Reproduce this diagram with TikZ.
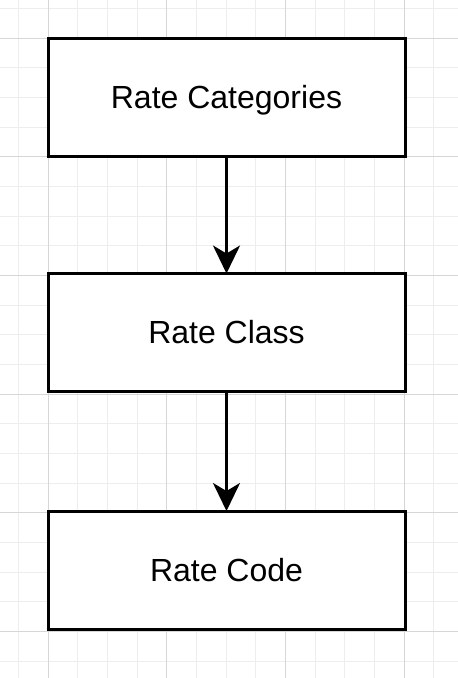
\documentclass[tikz,border=0pt]{standalone}
\usepackage{fontspec}
\setmainfont{Liberation Sans}
\usetikzlibrary{arrows.meta}
\begin{document}
\begin{tikzpicture}[x=1pt,y=-1pt,
  box/.style={draw=black,line width=3pt,fill=white,outer sep=0pt,
    minimum width=357pt,minimum height=118pt,inner sep=0pt,
    text height=22.9pt,text depth=0pt,
    font=\fontsize{32}{38}\selectfont},
  conn/.style={line width=2.8pt,-{Stealth[length=28pt,width=27pt,inset=8pt]}},
  minorgrid/.style={draw=black!7,line width=1pt},
  majorgrid/.style={draw=black!16,line width=1pt}]
\useasboundingbox[fill=white] (0,0) rectangle (458,678);
\def\gs{29.667}
\foreach \k in {-1,...,14} {
  \draw[minorgrid] ({48+\k*\gs},0) -- ({48+\k*\gs},678);
}
\foreach \k in {-1,...,22} {
  \draw[minorgrid] (0,{38+\k*\gs}) -- (458,{38+\k*\gs});
}
\foreach \k in {0,...,3} {
  \draw[majorgrid] ({48+\k*4*\gs},0) -- ({48+\k*4*\gs},678);
}
\foreach \k in {0,...,5} {
  \draw[majorgrid] (0,{38+\k*4*\gs}) -- (458,{38+\k*4*\gs});
}
\node[box] (b1) at (226.5,97) {Rate Categories};
\node[box] (b2) at (226.5,332.5) {Rate Class};
\node[box] (b3) at (226.5,570) {Rate Code};
\draw[conn] (b1.south) -- (b2.north);
\draw[conn] (b2.south) -- (b3.north);
\end{tikzpicture}
\end{document}
